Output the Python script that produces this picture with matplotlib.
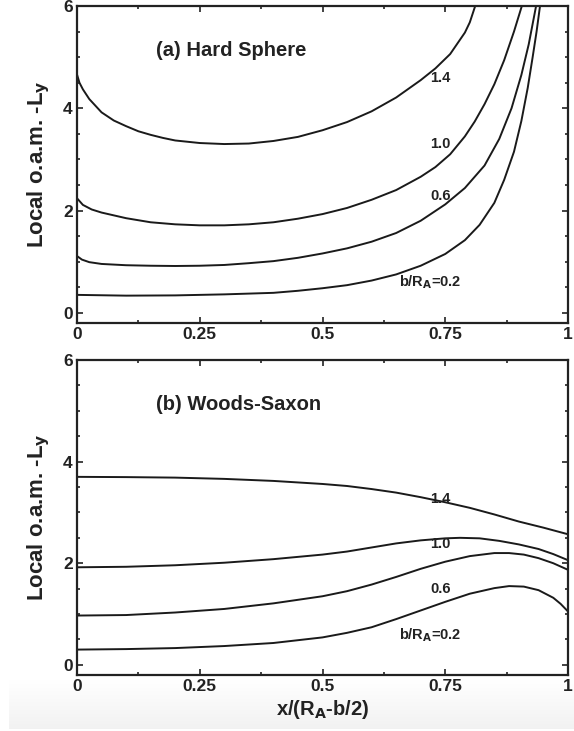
import numpy as np
import matplotlib
matplotlib.use('Agg')
import matplotlib.pyplot as plt
from matplotlib.ticker import MultipleLocator, FixedLocator

plt.rcParams['font.family'] = ['Liberation Sans', 'DejaVu Sans']
plt.rcParams['font.weight'] = 'bold'
plt.rcParams['axes.labelweight'] = 'bold'
plt.rcParams['mathtext.fontset'] = 'custom'
plt.rcParams['mathtext.rm'] = 'Liberation Sans:bold'
plt.rcParams['mathtext.it'] = 'Liberation Sans:bold'
plt.rcParams['mathtext.bf'] = 'Liberation Sans:bold'

''' Hard sphere: local o.a.m. for each impact parameter '''
hs_x14 = [0.0, 0.005, 0.012, 0.025, 0.05, 0.075, 0.1, 0.125, 0.15, 0.175, 0.2, 0.25,
          0.3, 0.35, 0.4, 0.45, 0.5, 0.55, 0.6, 0.65, 0.7, 0.73, 0.76, 0.79, 0.8, 0.811]
hs_y14 = [4.66, 4.50, 4.37, 4.18, 3.92, 3.76, 3.65, 3.55, 3.48, 3.42, 3.37, 3.32,
          3.30, 3.31, 3.36, 3.44, 3.57, 3.73, 3.94, 4.21, 4.55, 4.78, 5.06, 5.48, 5.68, 6.0]

hs_x10 = [0.0, 0.012, 0.03, 0.05, 0.1, 0.15, 0.2, 0.25, 0.3, 0.35, 0.4, 0.45, 0.5,
          0.55, 0.6, 0.65, 0.7, 0.73, 0.76, 0.79, 0.81, 0.83, 0.85, 0.87, 0.89, 0.906]
hs_y10 = [2.24, 2.11, 2.02, 1.96, 1.85, 1.77, 1.73, 1.71, 1.71, 1.73, 1.77, 1.84, 1.93,
          2.05, 2.21, 2.40, 2.66, 2.85, 3.10, 3.45, 3.74, 4.08, 4.47, 4.94, 5.50, 6.0]

hs_x06 = [0.0, 0.01, 0.025, 0.05, 0.1, 0.15, 0.2, 0.25, 0.3, 0.35, 0.4, 0.45, 0.5,
          0.55, 0.6, 0.65, 0.7, 0.75, 0.79, 0.83, 0.86, 0.885, 0.905, 0.92, 0.935]
hs_y06 = [1.11, 1.04, 0.99, 0.955, 0.93, 0.92, 0.915, 0.92, 0.935, 0.97, 1.01, 1.075, 1.16,
          1.26, 1.39, 1.56, 1.80, 2.12, 2.44, 2.88, 3.40, 4.00, 4.65, 5.25, 6.0]

hs_x02 = [0.0, 0.1, 0.2, 0.3, 0.4, 0.45, 0.5, 0.55, 0.6, 0.65, 0.7, 0.75, 0.79,
          0.82, 0.85, 0.87, 0.89, 0.905, 0.918, 0.928, 0.936, 0.943]
hs_y02 = [0.35, 0.335, 0.34, 0.36, 0.39, 0.43, 0.48, 0.54, 0.63, 0.75, 0.92, 1.15, 1.42,
          1.72, 2.15, 2.60, 3.15, 3.75, 4.40, 5.00, 5.50, 6.0]

''' Woods-Saxon '''
ws_x14 = [0.0, 0.1, 0.2, 0.3, 0.4, 0.45, 0.5, 0.55, 0.6, 0.65, 0.7, 0.75, 0.8,
          0.85, 0.9, 0.95, 1.0]
ws_y14 = [3.70, 3.695, 3.685, 3.66, 3.62, 3.59, 3.56, 3.52, 3.46, 3.39, 3.30, 3.20, 3.09,
          2.96, 2.82, 2.70, 2.57]

ws_x10 = [0.0, 0.1, 0.2, 0.3, 0.4, 0.5, 0.55, 0.6, 0.65, 0.7, 0.75, 0.78, 0.82,
          0.86, 0.9, 0.94, 0.97, 1.0]
ws_y10 = [1.92, 1.93, 1.96, 2.01, 2.08, 2.17, 2.23, 2.31, 2.39, 2.45, 2.49, 2.50, 2.49,
          2.44, 2.37, 2.28, 2.18, 2.06]

ws_x06 = [0.0, 0.1, 0.2, 0.3, 0.4, 0.5, 0.55, 0.6, 0.65, 0.7, 0.75, 0.8, 0.85,
          0.88, 0.91, 0.94, 0.97, 1.0]
ws_y06 = [0.97, 0.98, 1.03, 1.10, 1.21, 1.35, 1.45, 1.58, 1.73, 1.89, 2.03, 2.14, 2.20,
          2.20, 2.17, 2.10, 2.00, 1.87]

ws_x02 = [0.0, 0.1, 0.2, 0.3, 0.4, 0.5, 0.55, 0.6, 0.65, 0.7, 0.75, 0.8, 0.85,
          0.88, 0.91, 0.94, 0.97, 0.985, 1.0]
ws_y02 = [0.30, 0.31, 0.33, 0.37, 0.43, 0.54, 0.63, 0.74, 0.90, 1.07, 1.24, 1.40, 1.51,
          1.55, 1.54, 1.47, 1.32, 1.20, 1.05]

curve_labels = ['1.4', '1.0', '0.6', r'b/R$_{\mathsf{A}}$=0.2']
hs_label_y = [4.60, 3.31, 2.29, 0.59]
ws_label_y = [3.27, 2.38, 1.49, 0.58]
label_x = [0.74, 0.74, 0.74, 0.72]


fig = plt.figure(figsize=(5.74, 7.31), dpi=100)

# light grey fade behind the x axis title
band = fig.add_axes([9/574, 2/731, 1 - 9/574, 50/731], zorder=-5)
grad = np.linspace(0, 1, 100).reshape(-1, 1)
band.imshow(grad, aspect='auto', cmap='Greys', vmin=0, vmax=9, origin='upper',
            extent=[0, 1, 0, 1])
band.axis('off')

ax1 = fig.add_axes([77/574, 1 - 323/731, 491/574, 317/731])
ax2 = fig.add_axes([77/574, 1 - 675/731, 491/574, 315/731])

panels = [
    (ax1, [(hs_x14, hs_y14), (hs_x10, hs_y10), (hs_x06, hs_y06), (hs_x02, hs_y02)],
     hs_label_y, '(a) Hard Sphere'),
    (ax2, [(ws_x14, ws_y14), (ws_x10, ws_y10), (ws_x06, ws_y06), (ws_x02, ws_y02)],
     ws_label_y, '(b) Woods-Saxon'),
]

for ax, curves, lab_y, title in panels:
    for xs, ys in curves:
        ax.plot(xs, ys, color='#1a1a1a', lw=1.4, solid_joinstyle='round')
    for lx, ly, txt in zip(label_x, lab_y, curve_labels):
        ax.text(lx, ly, txt, fontsize=10.5, ha='center', va='center', color='#222222')
    ax.text(0.16, 5.12, title, fontsize=14.5, ha='left', va='center', color='#222222')

    ax.set_xlim(0, 1)
    ax.set_ylim(-0.2, 6)
    ax.xaxis.set_major_locator(FixedLocator([0, 0.25, 0.5, 0.75, 1]))
    ax.xaxis.set_minor_locator(MultipleLocator(0.125))
    ax.yaxis.set_major_locator(FixedLocator([0, 2, 4, 6]))
    ax.yaxis.set_minor_locator(MultipleLocator(0.5))
    ax.set_xticklabels(['0', '0.25', '0.5', '0.75', '1'])
    ax.set_yticklabels(['0', '2', '4', '6'])
    ax.tick_params(which='both', direction='in', top=True, right=True,
                   labelsize=12.5, width=1.2, color='#222222', labelcolor='#222222')
    ax.tick_params(which='major', length=4, pad=3)
    ax.tick_params(which='minor', length=2.5)
    for s in ax.spines.values():
        s.set_linewidth(1.6)
        s.set_color('#222222')
    ax.set_ylabel(r'Local o.a.m. -L$_{\mathsf{y}}$', fontsize=16, fontweight='bold',
                  labelpad=8, color='#222222')
    ax.patch.set_alpha(0)

ax2.set_xlabel(r'x/(R$_{\mathsf{A}}$-b/2)', fontsize=14.5, fontweight='bold',
               labelpad=3, color='#222222')

fig.savefig('out.png', dpi=100)
